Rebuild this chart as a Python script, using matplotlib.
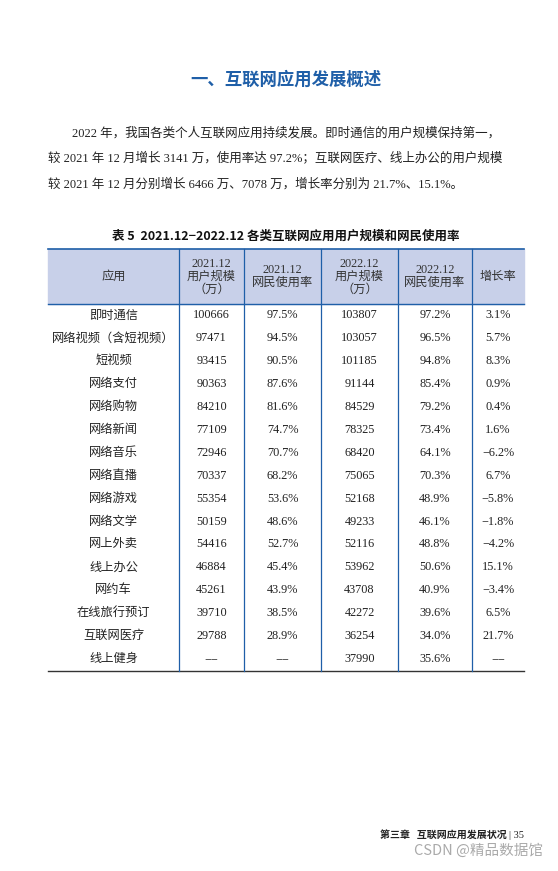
import matplotlib
matplotlib.use("Agg")
import matplotlib.pyplot as plt

plt.rcParams['font.family'] = ['Liberation Serif', 'Noto Sans CJK SC', 'DejaVu Sans']
SANS = ['Noto Sans CJK SC', 'DejaVu Sans']

apps = ["即时通信", "网络视频（含短视频）", "短视频", "网络支付", "网络购物", "网络新闻", "网络音乐",
        "网络直播", "网络游戏", "网络文学", "网上外卖", "线上办公", "网约车", "在线旅行预订",
        "互联网医疗", "线上健身"]
users_2021 = ["100666", "97471", "93415", "90363", "84210", "77109", "72946", "70337", "55354",
              "50159", "54416", "46884", "45261", "39710", "29788", "−−"]
rate_2021 = ["97.5%", "94.5%", "90.5%", "87.6%", "81.6%", "74.7%", "70.7%", "68.2%", "53.6%",
             "48.6%", "52.7%", "45.4%", "43.9%", "38.5%", "28.9%", "−−"]
users_2022 = ["103807", "103057", "101185", "91144", "84529", "78325", "68420", "75065", "52168",
              "49233", "52116", "53962", "43708", "42272", "36254", "37990"]
rate_2022 = ["97.2%", "96.5%", "94.8%", "85.4%", "79.2%", "73.4%", "64.1%", "70.3%", "48.9%",
             "46.1%", "48.8%", "50.6%", "40.9%", "39.6%", "34.0%", "35.6%"]
growth = ["3.1%", "5.7%", "8.3%", "0.9%", "0.4%", "1.6%", "−6.2%", "6.7%", "−5.8%", "−1.8%",
          "−4.2%", "15.1%", "−3.4%", "6.5%", "21.7%", "−−"]
headers = ["应用", "2021.12\n用户规模\n（万）", "2021.12\n网民使用率", "2022.12\n用户规模\n（万）",
           "2022.12\n网民使用率", "增长率"]

W, H = 558, 871
fig = plt.figure(figsize=(W / 100, H / 100), dpi=100)
ax = fig.add_axes([0, 0, 1, 1])
ax.set_xlim(0, W)
ax.set_ylim(H, 0)
ax.axis('off')

blue = "#1f5fa8"
ax.text(286, 80, "一、互联网应用发展概述", ha='center', va='center', fontsize=12.5,
        fontweight='bold', color=blue, family=SANS)
paras = [(72, 133, "2022 年，我国各类个人互联网应用持续发展。即时通信的用户规模保持第一，"),
         (48, 158, "较 2021 年 12 月增长 3141 万，使用率达 97.2%；互联网医疗、线上办公的用户规模"),
         (48, 184, "较 2021 年 12 月分别增长 6466 万、7078 万，增长率分别为 21.7%、15.1%。")]
for x, y, t in paras:
    ax.text(x, y, t, ha='left', va='center', fontsize=9.0, color="#222222")

ax.text(286, 236, "表 5  2021.12−2022.12 各类互联网应用用户规模和网民使用率", ha='center',
        va='center', fontsize=9.0, fontweight='bold', color="#111111", family=SANS)

xs = [48, 179, 244, 321, 398, 472, 524]
top, hb = 249, 304
rh = 22.9
bottom = hb + rh * len(apps) + 1
ax.add_patch(plt.Rectangle((xs[0], top), xs[-1] - xs[0], hb - top, color="#c8d0e9", zorder=0))
ax.plot([xs[0], xs[-1]], [top, top], color=blue, lw=1.2)
ax.plot([xs[0], xs[-1]], [hb, hb], color=blue, lw=1.0)
ax.plot([xs[0], xs[-1]], [bottom, bottom], color="#333333", lw=1.0)
for x in xs[1:-1]:
    ax.plot([x, x], [top, bottom], color=blue, lw=0.9)
for i, h in enumerate(headers):
    ax.text((xs[i] + xs[i + 1]) / 2, (top + hb) / 2, h, ha='center', va='center',
            fontsize=8.8, color="#333333", linespacing=1.1)
cols = [apps, users_2021, rate_2021, users_2022, rate_2022, growth]
for r in range(len(apps)):
    y = hb + rh * (r + 0.5)
    for c, col in enumerate(cols):
        ax.text((xs[c] + xs[c + 1]) / 2, y, col[r], ha='center', va='center',
                fontsize=8.8, color="#222222")

ax.text(507, 835, "第三章   互联网应用发展状况", ha='right', va='center', fontsize=7.2,
        fontweight='bold', color="#222222", family=SANS)
ax.text(509, 835, "| 35", ha='left', va='center', fontsize=7.5, color="#222222")
ax.text(543, 851, "CSDN @精品数据馆", ha='right', va='center', fontsize=10.5, color="#aaaaaa",
        family=SANS)

fig.savefig("out.png", dpi=100)
